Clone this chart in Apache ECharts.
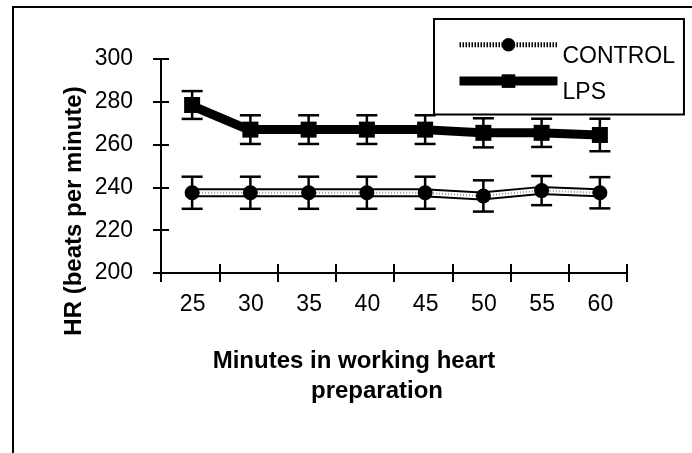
<!DOCTYPE html>
<html>
<head>
<meta charset="utf-8">
<script src="https://cdn.jsdelivr.net/npm/echarts@6/dist/echarts.min.js"></script>
<style>
html,body{margin:0;padding:0;background:#fff;}
#chart{width:692px;height:453px;}
</style>
</head>
<body>
<div id="chart"></div>
<script>
const categories = ['25', '30', '35', '40', '45', '50', '55', '60'];
const controlMean = [237.5, 237.5, 237.5, 237.5, 237.5, 236, 238.5, 237.5];
const controlErr = [7.5, 7.5, 7.5, 7.5, 7.5, 7.3, 6.8, 7.3];
const lpsMean = [278.5, 267, 267, 267, 267, 265.5, 265.5, 264.5];
const lpsErr = [6.5, 6.7, 6.7, 6.7, 6.7, 6.8, 6.6, 7.6];
const yMin = 200, yMax = 300, yStep = 20;
const xTitle1 = 'Minutes in working heart';
const xTitle2 = 'preparation';
const yTitle = 'HR (beats per minute)';

const FONT = '"Liberation Sans", Arial, sans-serif';

function errData(mean, err) {
  return mean.map((m, i) => [i, m - err[i], m + err[i]]);
}
function errRender(params, api) {
  const x = api.value(0);
  const lo = api.coord([x, api.value(1)]);
  const hi = api.coord([x, api.value(2)]);
  const dx = 2;
  const hw = 10.5;
  const st = { stroke: '#000', lineWidth: 2.5 };
  return {
    type: 'group',
    children: [
      { type: 'line', shape: { x1: lo[0] + dx, y1: lo[1], x2: hi[0] + dx, y2: hi[1] }, style: st },
      { type: 'line', shape: { x1: lo[0] + dx - hw, y1: lo[1], x2: lo[0] + dx + hw, y2: lo[1] }, style: st },
      { type: 'line', shape: { x1: hi[0] + dx - hw, y1: hi[1], x2: hi[0] + dx + hw, y2: hi[1] }, style: st }
    ]
  };
}

const chart = echarts.init(document.getElementById('chart'), null, { renderer: 'canvas' });
const axisLineStyle = { color: '#000', width: 2 };
const option = {
  animation: false,
  backgroundColor: '#fff',
  grid: { left: 161, right: 65, top: 59, bottom: 180, containLabel: false },
  xAxis: [
    {
      type: 'category', data: categories, boundaryGap: true,
      axisLine: { lineStyle: axisLineStyle },
      axisTick: { show: true, inside: false, length: 9, lineStyle: axisLineStyle },
      axisLabel: { color: '#000', fontSize: 23, fontFamily: FONT, margin: 20, padding: [0, 0, 0, 5] },
      splitLine: { show: false }
    },
    {
      type: 'category', data: categories, boundaryGap: true, position: 'bottom',
      axisLine: { lineStyle: axisLineStyle },
      axisTick: { show: true, inside: true, length: 9, lineStyle: axisLineStyle },
      axisLabel: { show: false },
      splitLine: { show: false }
    }
  ],
  yAxis: [
    {
      type: 'value', min: yMin, max: yMax, interval: yStep,
      axisLine: { show: true, lineStyle: axisLineStyle },
      axisTick: { show: true, inside: false, length: 8, lineStyle: axisLineStyle },
      axisLabel: { color: '#000', fontSize: 23, fontFamily: FONT, margin: 28 },
      splitLine: { show: false }
    },
    {
      type: 'value', min: yMin, max: yMax, interval: yStep, position: 'left',
      axisLine: { show: true, lineStyle: axisLineStyle },
      axisTick: { show: true, inside: true, length: 8, lineStyle: axisLineStyle },
      axisLabel: { show: false },
      splitLine: { show: false }
    }
  ],
  legend: {
    left: 434, top: 19, orient: 'vertical',
    data: [
      { name: 'CONTROL', lineStyle: { color: '#000', width: 5, type: [1.5, 1.5] } },
      { name: 'LPS', lineStyle: { color: '#000', width: 9 } }
    ],
    itemWidth: 98, itemHeight: 17, itemGap: 6,
    padding: [19, 9, 10, 21],
    borderColor: '#000', borderWidth: 2,
    formatter: '{t|{name}}',
    textStyle: {
      color: '#000', fontSize: 23, fontFamily: FONT,
      rich: { t: { fontSize: 23, fontFamily: FONT, color: '#000', padding: [24, 0, 0, 0] } }
    }
  },
  series: [
    {
      type: 'line', data: controlMean, symbol: 'none', z: 3,
      lineStyle: { color: '#000', width: 9 }, silent: true
    },
    {
      type: 'line', data: controlMean, symbol: 'none', z: 4,
      lineStyle: { color: '#fff', width: 5 }, silent: true
    },
    {
      name: 'CONTROL', type: 'line', data: controlMean, z: 5,
      symbol: 'circle', symbolSize: 15, symbolOffset: [2, 0],
      itemStyle: { color: '#000' },
      lineStyle: { color: '#999', width: 2, type: [1, 2] }
    },
    {
      name: 'LPS', type: 'line', data: lpsMean, z: 6,
      symbol: 'rect', symbolSize: 16, symbolOffset: [2, 0],
      itemStyle: { color: '#000' },
      lineStyle: { color: '#000', width: 9 }
    },
    {
      type: 'custom', data: errData(controlMean, controlErr), renderItem: errRender,
      encode: { x: 0, y: [1, 2] }, z: 2
    },
    {
      type: 'custom', data: errData(lpsMean, lpsErr), renderItem: errRender,
      encode: { x: 0, y: [1, 2] }, z: 2
    }
  ],
  graphic: [
    { type: 'rect', shape: { x: 13, y: 7, width: 720, height: 480 }, style: { fill: 'none', stroke: '#000', lineWidth: 2 }, z: 0 },
    { type: 'text', x: 354, y: 361, style: { text: xTitle1, font: 'bold 24px ' + FONT, fill: '#000', textAlign: 'center', textVerticalAlign: 'middle' } },
    { type: 'text', x: 377, y: 391, style: { text: xTitle2, font: 'bold 24px ' + FONT, fill: '#000', textAlign: 'center', textVerticalAlign: 'middle' } },
    { type: 'text', x: 74, y: 211, rotation: Math.PI / 2, style: { text: yTitle, font: 'bold 24px ' + FONT, fill: '#000', textAlign: 'center', textVerticalAlign: 'middle' } }
  ]
};
chart.setOption(option);
</script>
</body>
</html>
